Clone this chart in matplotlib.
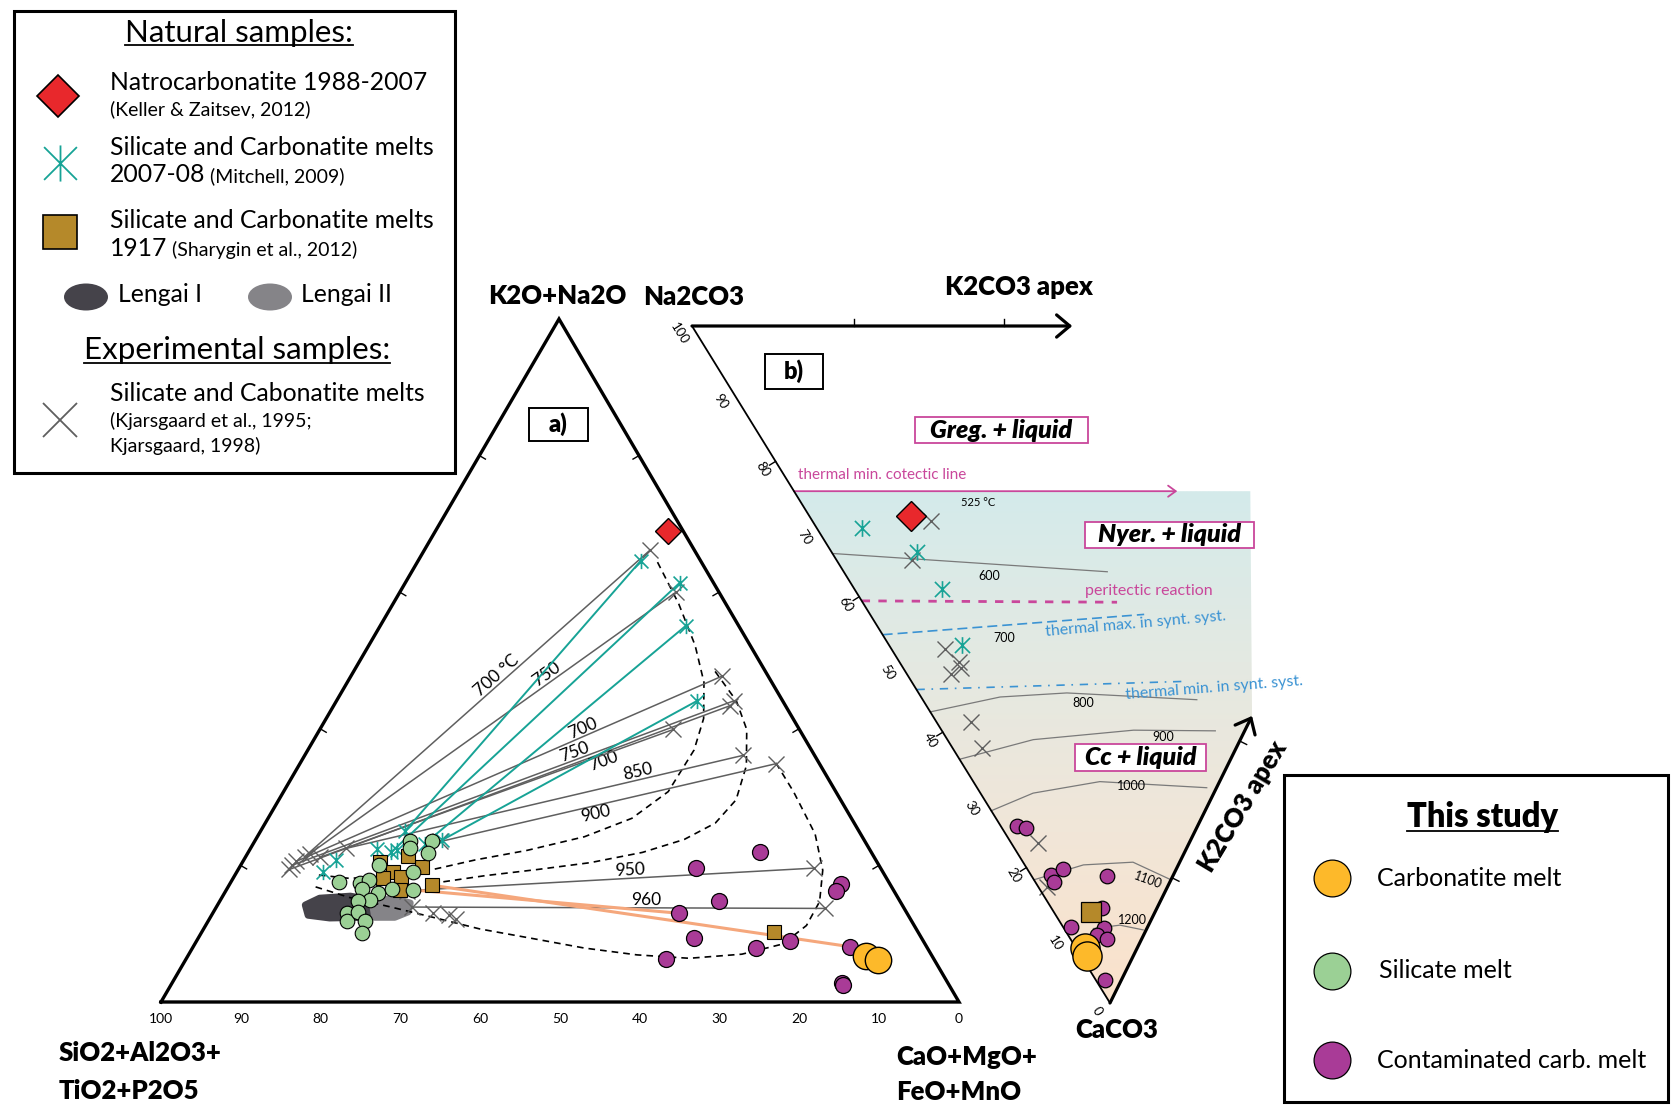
import numpy as np
import matplotlib.pyplot as plt
from matplotlib.patches import Rectangle, Polygon, Ellipse
from matplotlib.path import Path
from matplotlib.colors import LinearSegmentedColormap

plt.rcParams['font.family'] = ['Lato', 'DejaVu Sans']

# ---------------- panel a) wt%: top = K2O+Na2O, right = CaO+MgO+FeO+MnO ----------------
natro_a_top = [68.9]
natro_a_right = [29.2]

# Kjarsgaard experiments: tie lines silicate end -> carbonate end, with temperature
kj_sil_top = [21.3, 21.7, 20.6, 20.0, 19.4, 21.2, 22.5, 23.5, 16.3, 13.9]
kj_sil_right = [7.4, 7.8, 6.7, 6.4, 6.4, 9.4, 12.0, 23.3, 22.7, 24.5]
kj_carb_top = [66.2, 60.0, 47.7, 44.1, 43.4, 39.9, 36.1, 34.9, 19.6, 13.7]
kj_carb_right = [28.3, 34.6, 46.5, 49.8, 49.7, 44.3, 54.9, 59.7, 72.0, 76.4]
kj_temp = ['700 °C', '750', '700', '750', '700', '', '850', '900', '950', '960']
kj_extra_top = [13.1, 12.7, 12.2]
kj_extra_right = [27.5, 29.7, 30.9]

# Mitchell (2009) tie lines
mi_sil_top = [25.0, 21.9, 23.2, 23.7]
mi_sil_right = [18.1, 17.9, 21.5, 23.4]
mi_carb_top = [64.6, 61.4, 55.1, 44.1]
mi_carb_right = [27.9, 34.4, 38.3, 45.2]
mi_extra_top = [19.0, 20.8, 22.4, 22.2]
mi_extra_right = [10.8, 11.5, 15.9, 18.5]

# Sharygin et al. (2012)
sh_top = [20.5, 19.1, 18.1, 18.3, 16.4, 19.8, 17.1, 21.4, 10.2]
sh_right = [17.2, 19.6, 18.8, 21.0, 21.8, 22.8, 25.4, 20.3, 71.7]

# this study
sil_top = [23.5, 21.8, 23.5, 22.6, 20.1, 19.1, 17.5, 17.4, 17.9, 16.6,
           15.9, 14.9, 14.8, 16.5, 16.4, 13.0, 11.8, 13.2, 11.8, 10.1]
sil_right = [22.2, 22.6, 19.5, 19.9, 17.3, 22.0, 13.6, 16.3, 17.1, 16.9,
             19.3, 18.7, 17.3, 20.7, 23.4, 16.8, 17.4, 18.1, 19.7, 20.1]
cont_top = [21.9, 19.6, 17.3, 16.2, 14.8, 13.0, 9.3, 7.9, 8.9, 8.1, 6.3, 2.8, 2.5]
cont_right = [64.1, 57.3, 76.6, 76.5, 62.6, 58.4, 62.2, 70.6, 74.4, 82.3, 60.2, 84.0, 84.2]
carb_top = [6.8, 6.2]
carb_right = [84.9, 86.7]

# conjugate pairs of this study (silicate -> carbonatite)
pair_sil_top = [16.4, 17.1]
pair_sil_right = [23.5, 25.4]
pair_carb_top = [13.0, 8.1]
pair_carb_right = [58.4, 82.3]

# Lengai fields
lengai1_top = [14.2, 15.2, 15.5, 14.9, 13.5, 12.4, 12.3, 12.7]
lengai1_right = [11.0, 12.3, 16.0, 19.0, 20.5, 19.4, 15.0, 12.1]
lengai2_top = [14.9, 15.1, 14.5, 13.2, 12.4, 12.4]
lengai2_right = [19.0, 21.8, 24.0, 24.4, 23.1, 20.6]

# two-liquid field boundaries (dashed)
solv1_top = [64.4, 58.3, 52.2, 46.8, 41.5, 36.9, 30.8, 26.9, 24.2, 22.2, 20.8, 19.4, 18.5, 18.1, 18.6]
solv1_right = [30.1, 35.8, 40.9, 44.7, 47.3, 48.4, 48.2, 45.6, 41.0, 34.8, 29.0, 24.4, 19.6, 14.6, 10.4]
solv2_top = [48.4, 44.1, 39.9, 34.6, 29.6, 26.2, 23.8, 21.9, 20.4, 19.4, 18.5, 17.6]
solv2_right = [45.3, 50.1, 53.5, 56.1, 57.3, 56.4, 53.7, 49.4, 43.6, 37.5, 31.4, 26.6]
solv3_top = [35.0, 30.8, 24.6, 19.3, 14.7, 11.2, 8.5, 7.0, 6.4, 6.9, 7.9, 9.3, 10.7, 12.4, 13.9, 15.3, 17.0]
solv3_right = [59.6, 63.9, 69.7, 73.3, 75.2, 75.3, 73.7, 69.3, 63.0, 56.2, 49.1, 41.9, 34.6, 27.9, 21.9, 16.0, 10.5]

# ---------------- panel b) mol%: Na2CO3 and K2CO3 (rest CaCO3) ----------------
natro_b_na, natro_b_k = [58.4], [13.5]
mi_b_na = [64.1, 55.2, 49.6, 43.2]
mi_b_k = [6.1, 11.4, 11.6, 9.7]
kj_b_na = [55.4, 55.4, 45.2, 42.5, 41.8, 42.7, 36.9, 33.8, 20.1, 16.0]
kj_b_k = [15.8, 10.1, 7.1, 7.9, 7.7, 5.9, 4.6, 3.9, 3.6, 1.1]
cont_b_na = [24.0, 22.7, 16.3, 15.1, 15.4, 8.7, 7.4, 10.2, 5.8, 6.2, 4.6, 2.2]
cont_b_k = [2.2, 3.2, 2.6, 4.7, 2.5, 10.1, 6.7, 1.0, 5.3, 3.8, 4.8, 1.2]
sh_b_na, sh_b_k = [8.5], [4.9]
carb_b_na, carb_b_k = [6.9, 6.1], [1.2, 0.8]

cotectic_na, cotectic_k = [75.6, 24.7], [0.0, 50.9]
iso600_na, iso600_k = [66.4, 28.7], [0.0, 35.0]
perit_na, perit_k = [59.4, 25.4], [0.0, 33.8]
tmax_na, tmax_k = [54.4, 21.0], [0.0, 36.4]
tmin_na, tmin_k = [46.3, 11.4], [0.0, 36.1]
iso800_na, iso800_k = [43.0, 34.7, 26.1, 8.4], [0.0, 10.5, 19.7, 36.4]
iso900_na, iso900_k = [36.0, 27.5, 14.8, 3.9], [0.0, 11.4, 25.5, 36.3]
iso1000_na, iso1000_k = [28.4, 24.0, 15.9, 1.3], [0.0, 7.0, 16.8, 30.5]
iso1100_na, iso1100_k = [18.2, 12.6, 6.2, 0.0], [0.0, 7.8, 14.6, 18.2]
iso1200_na, iso1200_k = [7.1, 3.8, 0.4], [3.9, 7.7, 10.4]

RED = '#e8282c'
TEAL = '#17a396'
BROWN = '#b5892a'
ORANGE = '#fdb92a'
GREEN = '#9bd095'
PURPLE = '#a93b97'
GREY = '#5f5f5f'
SALMON = '#f5a77c'
MAGENTA = '#c9479b'
BLUE = '#3b93d3'

A_BL, A_BR, A_TOP = (161, 1002), (959, 1002), (559, 319)
B_NA, B_CA, B_K = (692, 326), (1110, 1003), (1445, 326)


def tern_a(top, right):
    t = np.asarray(top, float) / 100
    r = np.asarray(right, float) / 100
    x = A_BL[0] + r * (A_BR[0] - A_BL[0]) + t * (A_TOP[0] - A_BL[0])
    y = A_BL[1] + r * (A_BR[1] - A_BL[1]) + t * (A_TOP[1] - A_BL[1])
    return x, y


def tern_b(na, k):
    n = np.asarray(na, float) / 100
    kk = np.asarray(k, float) / 100
    x = B_CA[0] + n * (B_NA[0] - B_CA[0]) + kk * (B_K[0] - B_CA[0])
    y = B_CA[1] + n * (B_NA[1] - B_CA[1]) + kk * (B_K[1] - B_CA[1])
    return x, y


ASTER = Path([(-1, -1), (1, 1), (-1, 1), (1, -1), (0, -1.1), (0, 1.1)],
             [Path.MOVETO, Path.LINETO] * 3)

fig = plt.figure(figsize=(16.81, 11.09), dpi=100)
ax = fig.add_axes([0, 0, 1, 1])

# ---------------- panel b) background ----------------
cmap = LinearSegmentedColormap.from_list('bg', ['#d4ebeb', '#e4e9e2', '#f1e6d8', '#fbe2cb'])
shade = np.array([tern_b(75.6, 0), tern_b(0, 0), tern_b(0, 42.4), tern_b(15.0, 60.6)])
clip = Polygon(shade, closed=True, facecolor='none', edgecolor='none')
ax.add_patch(clip)
img = ax.imshow(np.linspace(0, 1, 256)[:, None], cmap=cmap, aspect='auto',
                extent=(shade[:, 0].min(), shade[:, 0].max(), shade[:, 1].max(), shade[:, 1].min()),
                zorder=0)
img.set_clip_path(clip)

ax.set_xlim(0, 1681)
ax.set_ylim(1109, 0)
ax.axis('off')

# ---------------- panel a) ----------------
fx, fy = zip(A_BL, A_BR, A_TOP, A_BL)
ax.plot(fx, fy, color='k', lw=2.4, solid_joinstyle='miter', zorder=6)
for v in [20, 40, 60, 80]:
    x, y = tern_a(v, 0)
    ax.plot([x, x + 6], [y, y + 3.5], color='k', lw=1, zorder=6)
    x, y = tern_a(v, 100 - v)
    ax.plot([x, x - 6], [y, y + 3.5], color='k', lw=1, zorder=6)
for v in range(100, -1, -10):
    x, y = tern_a(0, 100 - v)
    ax.text(x, y + 17, str(v), ha='center', va='center', fontsize=10)

for tt, rr, col in [(lengai1_top, lengai1_right, '#45434a'), (lengai2_top, lengai2_right, '#858488')]:
    px, py = tern_a(tt, rr)
    ax.add_patch(Polygon(np.column_stack([px, py]), closed=True, facecolor=col,
                         edgecolor=col, lw=5, joinstyle='round', zorder=1))

for tt, rr in [(solv1_top, solv1_right), (solv2_top, solv2_right), (solv3_top, solv3_right)]:
    px, py = tern_a(tt, rr)
    ax.plot(px, py, color='k', lw=1.2, ls=(0, (4, 3)), zorder=2)

label_pos = [0.57, 0.66, 0.68, 0.645, 0.706, 0, 0.74, 0.456, 0.55, 0.566]
label_side = ['b', 'b', 'b', 'b', 't', '', 'b', 't', 'b', 'b']
for i in range(len(kj_temp)):
    x0, y0 = tern_a(kj_sil_top[i], kj_sil_right[i])
    x1, y1 = tern_a(kj_carb_top[i], kj_carb_right[i])
    ax.plot([x0, x1], [y0, y1], color=GREY, lw=1.1, zorder=3)
    ax.plot([x0, x1], [y0, y1], ls='none', marker='x', ms=11, mew=1.0, color=GREY, zorder=5)
    if kj_temp[i]:
        f = label_pos[i]
        xm, ym = x0 + f * (x1 - x0), y0 + f * (y1 - y0)
        ang = np.degrees(np.arctan2(-(y1 - y0), x1 - x0))
        ax.text(xm, ym, kj_temp[i], rotation=ang, rotation_mode='anchor', ha='center',
                va='bottom' if label_side[i] == 'b' else 'top', fontsize=12.5)
px, py = tern_a(kj_extra_top, kj_extra_right)
ax.plot(px, py, ls='none', marker='x', ms=11, mew=1.0, color=GREY, zorder=5)

for i in range(len(mi_sil_top)):
    x0, y0 = tern_a(mi_sil_top[i], mi_sil_right[i])
    x1, y1 = tern_a(mi_carb_top[i], mi_carb_right[i])
    ax.plot([x0, x1], [y0, y1], color=TEAL, lw=1.4, zorder=3)
    ax.plot([x0, x1], [y0, y1], ls='none', marker=ASTER, ms=11, mew=1.2, color=TEAL, zorder=5)
px, py = tern_a(mi_extra_top, mi_extra_right)
ax.plot(px, py, ls='none', marker=ASTER, ms=11, mew=1.2, color=TEAL, zorder=5)

for i in range(len(pair_sil_top)):
    x0, y0 = tern_a(pair_sil_top[i], pair_sil_right[i])
    x1, y1 = tern_a(pair_carb_top[i], pair_carb_right[i])
    ax.plot([x0, x1], [y0, y1], color=SALMON, lw=2.2, zorder=4)

px, py = tern_a(sh_top, sh_right)
ax.plot(px, py, ls='none', marker='s', ms=10.5, mfc=BROWN, mec='k', mew=0.8, zorder=7)
px, py = tern_a(sil_top, sil_right)
ax.plot(px, py, ls='none', marker='o', ms=10.5, mfc=GREEN, mec='k', mew=0.8, zorder=8)
px, py = tern_a(cont_top, cont_right)
ax.plot(px, py, ls='none', marker='o', ms=11.5, mfc=PURPLE, mec='k', mew=0.9, zorder=8)
px, py = tern_a(carb_top, carb_right)
ax.plot(px, py, ls='none', marker='o', ms=19, mfc=ORANGE, mec='k', mew=1.0, zorder=9)
px, py = tern_a(natro_a_top, natro_a_right)
ax.plot(px, py, ls='none', marker='D', ms=13.5, mfc=RED, mec='k', mew=1.0, zorder=9)

# ---------------- panel b) ----------------
ax.plot([B_NA[0], B_CA[0]], [B_NA[1], B_CA[1]], color='k', lw=1.3, zorder=6)
tip_top = tern_b(49.5, 50.5)
ax.annotate('', xy=tip_top, xytext=B_NA, zorder=6,
            arrowprops=dict(arrowstyle='->,head_length=0.95,head_width=0.8', lw=2.3,
                            color='k', shrinkA=0, shrinkB=0))
tip_right = tern_b(0, 42.4)
ax.annotate('', xy=tip_right, xytext=B_CA, zorder=6,
            arrowprops=dict(arrowstyle='->,head_length=0.95,head_width=0.8', lw=2.3,
                            color='k', shrinkA=0, shrinkB=0))
for v in [21.5, 41.5]:
    x, y = tern_b(100 - v, v)
    ax.plot([x, x], [y, y - 7], color='k', lw=1, zorder=6)
for v in [18.5, 38.7]:
    x, y = tern_b(0, v)
    ax.plot([x, x + 7], [y, y + 3.5], color='k', lw=1, zorder=6)
for v in [20, 40, 60, 80]:
    x, y = tern_b(v, 0)
    ax.plot([x, x - 6], [y, y + 3.7], color='k', lw=1, zorder=6)
for v in range(100, -1, -10):
    x, y = tern_b(v, 0)
    ax.text(x - 13, y + 8, str(v), rotation=-58, ha='center', va='center', fontsize=9.5)

px, py = tern_b(cotectic_na, cotectic_k)
ax.annotate('', xy=(px[1], py[1]), xytext=(px[0], py[0]), zorder=3,
            arrowprops=dict(arrowstyle='->,head_length=0.55,head_width=0.4', lw=1.3,
                            color=MAGENTA, shrinkA=0, shrinkB=0))
for nn, kk in [(iso600_na, iso600_k), (iso800_na, iso800_k), (iso900_na, iso900_k),
               (iso1000_na, iso1000_k), (iso1100_na, iso1100_k), (iso1200_na, iso1200_k)]:
    px, py = tern_b(nn, kk)
    ax.plot(px, py, color='#7a7a7a', lw=0.9, zorder=2)
px, py = tern_b(perit_na, perit_k)
ax.plot(px, py, color=MAGENTA, lw=2.0, ls=(0, (3, 3)), zorder=2)
px, py = tern_b(tmax_na, tmax_k)
ax.plot(px, py, color=BLUE, lw=1.2, ls=(0, (6, 3)), zorder=2)
px, py = tern_b(tmin_na, tmin_k)
ax.plot(px, py, color=BLUE, lw=1.2, ls=(0, (5, 4, 1, 4)), zorder=2)

px, py = tern_b(kj_b_na, kj_b_k)
ax.plot(px, py, ls='none', marker='x', ms=11, mew=1.0, color=GREY, zorder=5)
px, py = tern_b(mi_b_na, mi_b_k)
ax.plot(px, py, ls='none', marker=ASTER, ms=12, mew=1.2, color=TEAL, zorder=5)
px, py = tern_b(cont_b_na, cont_b_k)
ax.plot(px, py, ls='none', marker='o', ms=10.5, mfc=PURPLE, mec='k', mew=0.9, zorder=7)
px, py = tern_b(sh_b_na, sh_b_k)
ax.plot(px, py, ls='none', marker='s', ms=15, mfc=BROWN, mec='k', mew=0.9, zorder=8)
px, py = tern_b(carb_b_na, carb_b_k)
ax.plot(px, py, ls='none', marker='o', ms=21, mfc=ORANGE, mec='k', mew=1.0, zorder=9)
px, py = tern_b(natro_b_na, natro_b_k)
ax.plot(px, py, ls='none', marker='D', ms=15, mfc=RED, mec='k', mew=1.0, zorder=9)

ax.text(798, 475, 'thermal min. cotectic line', color=MAGENTA, fontsize=11, va='center')
ax.text(978, 502, '525 °C', fontsize=8, ha='center', va='center')
ax.text(1085, 591, 'peritectic reaction', color=MAGENTA, fontsize=11.5, va='center')
ax.text(1136, 624, 'thermal max. in synt. syst.', color=BLUE, fontsize=11.5,
        ha='center', va='center', rotation=5)
ax.text(1214, 688, 'thermal min. in synt. syst.', color=BLUE, fontsize=11.5,
        ha='center', va='center', rotation=4.5)
for lab, x, y, rot in [('600', 989, 576, 0), ('700', 1004, 638, 0), ('800', 1083, 703, 0),
                       ('900', 1163, 737, 0), ('1000', 1131, 786, 0), ('1100', 1148, 880, -20),
                       ('1200', 1132, 920, 0)]:
    ax.text(x, y, lab, fontsize=9, ha='center', va='center', rotation=rot)

for lab, x0, x1, y0, y1 in [('Greg. + liquid', 915, 1088, 417, 443),
                            ('Nyer. + liquid', 1085, 1254, 522, 548),
                            ('Cc + liquid', 1075, 1206, 744, 771)]:
    ax.add_patch(Rectangle((x0, y0), x1 - x0, y1 - y0, facecolor='white',
                           edgecolor=MAGENTA, lw=1.3, zorder=10))
    ax.text((x0 + x1) / 2, (y0 + y1) / 2, lab, fontsize=18, fontweight='heavy', fontstyle='italic',
            ha='center', va='center', zorder=11)

for lab, x0, x1, y0, y1 in [('a)', 529, 588, 408, 441), ('b)', 765, 823, 354, 389)]:
    ax.add_patch(Rectangle((x0, y0), x1 - x0, y1 - y0, facecolor='white',
                           edgecolor='k', lw=1.4, zorder=10))
    ax.text((x0 + x1) / 2, (y0 + y1) / 2, lab, fontsize=17, fontweight='heavy',
            ha='center', va='center', zorder=11)

bold = dict(fontsize=18.5, fontweight='heavy')
ax.text(557, 296, 'K2O+Na2O', ha='center', va='center', **bold)
ax.text(694, 297, 'Na2CO3', ha='center', va='center', **bold)
ax.text(1019, 287, 'K2CO3 apex', ha='center', va='center', **bold)
ax.text(59, 1053, 'SiO2+Al2O3+', ha='left', va='center', **bold)
ax.text(59, 1091, 'TiO2+P2O5', ha='left', va='center', **bold)
ax.text(896, 1057, 'CaO+MgO+', ha='left', va='center', **bold)
ax.text(896, 1092, 'FeO+MnO', ha='left', va='center', **bold)
ax.text(1117, 1030, 'CaCO3', ha='center', va='center', **bold)
ax.text(1243, 806, 'K2CO3 apex', ha='center', va='center', rotation=59, **bold)

# ---------------- legends ----------------
ax.add_patch(Rectangle((14, 11), 441, 462, fill=False, edgecolor='k', lw=2.2, zorder=10))
ax.add_patch(Rectangle((1284, 775), 384, 327, fill=False, edgecolor='k', lw=2.2, zorder=10))

ax.plot(58, 96, marker='D', ms=21, mfc=RED, mec='k', mew=1.2)
ax.plot(60, 163, marker=ASTER, ms=26, mew=1.3, color=TEAL)
ax.plot(60, 232, marker='s', ms=24, mfc=BROWN, mec='k', mew=1.2)
ax.add_patch(Ellipse((86, 297), 44, 27, facecolor='#45434a', edgecolor='none'))
ax.add_patch(Ellipse((270, 297), 44, 27, facecolor='#858488', edgecolor='none'))
ax.plot(60, 420, marker='x', ms=25, mew=1.3, color=GREY)

big, small = 17.8, 14
ax.text(110, 90, 'Natrocarbonatite 1988-2007', fontsize=big, va='baseline')
ax.text(110, 115, '(Keller & Zaitsev, 2012)', fontsize=small, va='baseline')
ax.text(110, 155, 'Silicate and Carbonatite melts', fontsize=big, va='baseline')
t1 = ax.text(110, 182, '2007-08', fontsize=big, va='baseline')
ax.text(110, 228, 'Silicate and Carbonatite melts', fontsize=big, va='baseline')
t2 = ax.text(110, 256, '1917', fontsize=big, va='baseline')
ax.text(118, 302, 'Lengai I', fontsize=big, va='baseline')
ax.text(301, 302, 'Lengai II', fontsize=big, va='baseline')
ax.text(110, 401, 'Silicate and Cabonatite melts', fontsize=big, va='baseline')
ax.text(110, 427, '(Kjarsgaard et al., 1995;', fontsize=small, va='baseline')
ax.text(110, 452, 'Kjarsgaard, 1998)', fontsize=small, va='baseline')
h1 = ax.text(239, 33, 'Natural samples:', fontsize=22.5, ha='center', va='center')
h2 = ax.text(237, 350, 'Experimental samples:', fontsize=22.5, ha='center', va='center')

ax.plot(1332, 878, marker='o', ms=26.5, mfc=ORANGE, mec='k', mew=0.9)
ax.plot(1332, 971, marker='o', ms=26.5, mfc=GREEN, mec='k', mew=0.9)
ax.plot(1332, 1060, marker='o', ms=26.5, mfc=PURPLE, mec='k', mew=0.9)
ax.text(1377, 878, 'Carbonatite melt', fontsize=18, va='center')
ax.text(1379, 971, 'Silicate melt', fontsize=18, va='center')
ax.text(1377, 1060, 'Contaminated carb. melt', fontsize=18, va='center')
h3 = ax.text(1483, 817, 'This study', fontsize=23.5, fontweight='heavy', ha='center', va='center')

fig.canvas.draw()
rend = fig.canvas.get_renderer()
inv = ax.transData.inverted()


def right_edge(t):
    bb = t.get_window_extent(rend)
    return inv.transform((bb.x1, bb.y0))[0]


ax.text(right_edge(t1) + 5, 182, '(Mitchell, 2009)', fontsize=small, va='baseline')
ax.text(right_edge(t2) + 5, 256, '(Sharygin et al., 2012)', fontsize=small, va='baseline')
for t, y in [(h1, 45), (h2, 363), (h3, 831)]:
    bb = t.get_window_extent(rend)
    x0 = inv.transform((bb.x0, bb.y0))[0]
    x1 = inv.transform((bb.x1, bb.y0))[0]
    ax.plot([x0, x1], [y, y], color='k', lw=1.3)

fig.savefig('out.png', dpi=100)
